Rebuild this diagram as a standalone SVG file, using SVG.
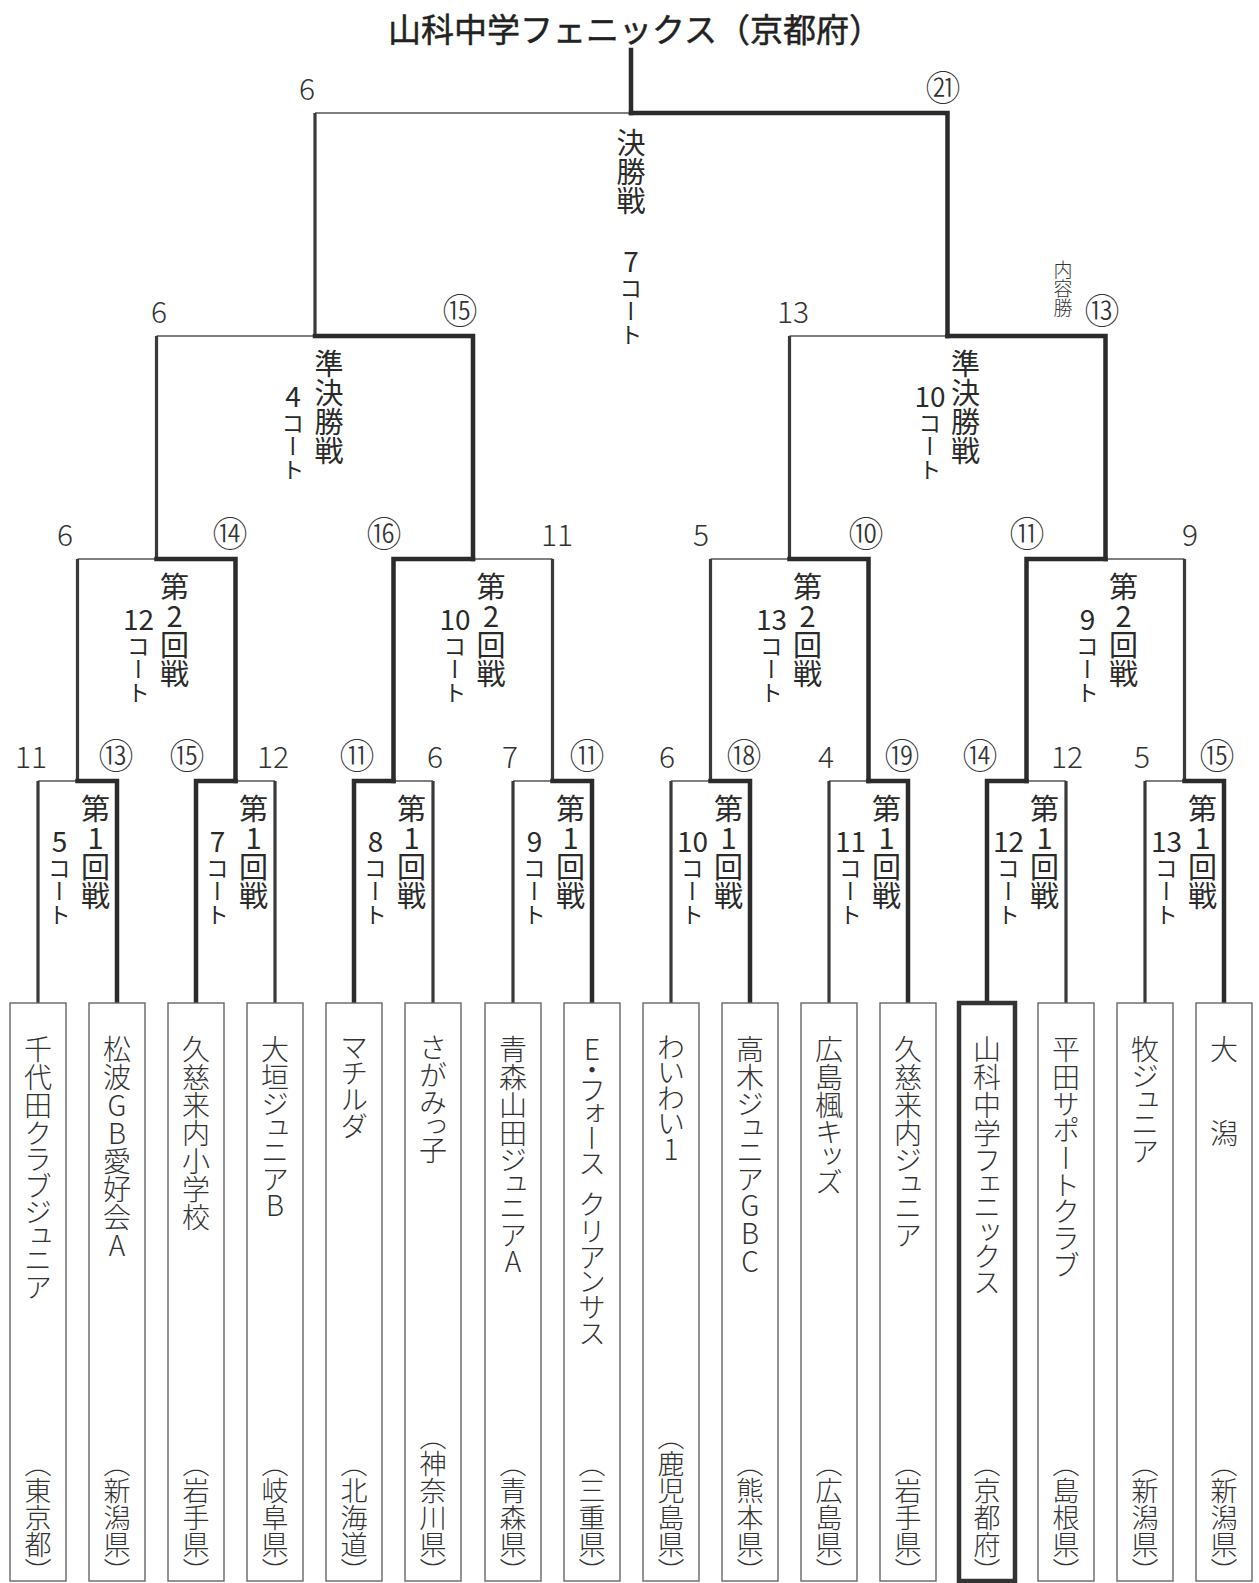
<svg xmlns="http://www.w3.org/2000/svg" width="1259" height="1583" viewBox="0 0 1259 1583">
<style>
.t{font-family:"Noto Sans CJK JP","Noto Sans CJK SC",sans-serif;fill:#333;font-weight:300}
.v{writing-mode:vertical-rl;text-orientation:upright}
.rn{font-size:29px;font-weight:400;fill:#2a2a2a}
.ct{font-size:23px;font-weight:400;fill:#2a2a2a}
.cn{font-size:28px;text-anchor:middle;font-weight:400;fill:#2a2a2a}
.sc{font-family:"Noto Sans CJK JP",sans-serif;font-weight:300;font-size:30px;text-anchor:middle;fill:#333}
.ci{font-size:35px;text-anchor:middle}
.tm{font-size:28px;font-feature-settings:"vpal" 1}
.pf{font-size:27px;text-anchor:end}
.sm{font-size:19px}
.ttl{font-size:33px;font-weight:400;fill:#222;stroke:#222;stroke-width:0.5}
.box{fill:#fff;stroke:#666;stroke-width:1.4}
.boxw{fill:#fff;stroke:#333;stroke-width:4.5}
.win{fill:none;stroke:#2b2b2b;stroke-width:4.5;stroke-linecap:square}
.lv{fill:none;stroke:#3a3a3a;stroke-width:3.2}
.lh{fill:none;stroke:#555;stroke-width:1.5}
</style>
<rect width="1259" height="1583" fill="#fff"/>

<g id="title"><text class="t ttl" x="388" y="42">山科中学フェニックス（京都府）</text></g>

<g id="connectors">
<path class="win" d="M631 50V113"/>
<path class="lh" d="M315 113H631"/><path class="lv" d="M315 113V336"/><path class="win" d="M631 113H947.5V336"/>
<path class="lh" d="M156.5 336H315"/><path class="lv" d="M156.5 336V559"/><path class="win" d="M315 336H473V559"/>
<path class="lh" d="M789.5 336H947.5"/><path class="lv" d="M789.5 336V559"/><path class="win" d="M947.5 336H1105.5V559"/>
<path class="lh" d="M77.5 559H156.5"/><path class="lv" d="M77.5 559V781"/><path class="win" d="M156.5 559H235.5V781"/>
<path class="lh" d="M473 559H552.5"/><path class="lv" d="M552.5 559V781"/><path class="win" d="M473 559H393.5V781"/>
<path class="lh" d="M710.5 559H789.5"/><path class="lv" d="M710.5 559V781"/><path class="win" d="M789.5 559H868.5V781"/>
<path class="lh" d="M1105.5 559H1184.5"/><path class="lv" d="M1184.5 559V781"/><path class="win" d="M1105.5 559H1026.5V781"/>
<path class="lh" d="M38 781H77.5"/><path class="lv" d="M38 781V1003"/><path class="win" d="M77.5 781H117V1003"/>
<path class="lh" d="M235.5 781H275"/><path class="lv" d="M275 781V1003"/><path class="win" d="M235.5 781H196V1003"/>
<path class="lh" d="M393.5 781H433"/><path class="lv" d="M433 781V1003"/><path class="win" d="M393.5 781H354V1003"/>
<path class="lh" d="M513 781H552.5"/><path class="lv" d="M513 781V1003"/><path class="win" d="M552.5 781H592V1003"/>
<path class="lh" d="M671 781H710.5"/><path class="lv" d="M671 781V1003"/><path class="win" d="M710.5 781H750V1003"/>
<path class="lh" d="M829 781H868.5"/><path class="lv" d="M829 781V1003"/><path class="win" d="M868.5 781H908V1003"/>
<path class="lh" d="M1026.5 781H1066"/><path class="lv" d="M1066 781V1003"/><path class="win" d="M1026.5 781H987V1003"/>
<path class="lh" d="M1145 781H1184.5"/><path class="lv" d="M1145 781V1003"/><path class="win" d="M1184.5 781H1224V1003"/>
</g>

<g id="final">
<text class="sc" x="307" y="100">6</text><text class="t ci" x="943" y="101">㉑</text>
<text class="t v rn" x="631" y="128">決勝戦</text>
<text class="t cn" x="631" y="272">7</text><text class="t v ct" x="631" y="277">コート</text>
</g>
<g id="semi1">
<text class="sc" x="159" y="323">6</text><text class="t ci" x="460" y="324">⑮</text>
<text class="t v rn" x="329" y="349">準決勝戦</text>
<text class="t cn" x="293" y="407">4</text><text class="t v ct" x="293" y="412">コート</text>
</g>
<g id="semi2">
<text class="sc" x="793" y="323">13</text><text class="t ci" x="1102" y="324">⑬</text>
<text class="t v sm" x="1063" y="260">内容勝</text>
<text class="t v rn" x="965.5" y="349">準決勝戦</text>
<text class="t cn" x="930" y="407">10</text><text class="t v ct" x="930" y="412">コート</text>
</g>

<g id="r2m1">
<text class="sc" x="65" y="546">6</text><text class="t ci" x="230" y="547">⑭</text>
<text class="t v rn" x="174.5" y="572">第2回戦</text>
<text class="t cn" x="138.5" y="630">12</text><text class="t v ct" x="138.5" y="635">コート</text>
</g>
<g id="r2m2">
<text class="t ci" x="384" y="547">⑯</text><text class="sc" x="557" y="546">11</text>
<text class="t v rn" x="491" y="572">第2回戦</text>
<text class="t cn" x="455" y="630">10</text><text class="t v ct" x="455" y="635">コート</text>
</g>
<g id="r2m3">
<text class="sc" x="701" y="546">5</text><text class="t ci" x="866" y="547">⑩</text>
<text class="t v rn" x="807.5" y="572">第2回戦</text>
<text class="t cn" x="771.5" y="630">13</text><text class="t v ct" x="771.5" y="635">コート</text>
</g>
<g id="r2m4">
<text class="t ci" x="1027" y="547">⑪</text><text class="sc" x="1190" y="546">9</text>
<text class="t v rn" x="1123.5" y="572">第2回戦</text>
<text class="t cn" x="1087.5" y="630">9</text><text class="t v ct" x="1087.5" y="635">コート</text>
</g>

<g id="r1m1">
<text class="sc" x="31" y="768">11</text><text class="t ci" x="116" y="769">⑬</text>
<text class="t v rn" x="95.5" y="794">第1回戦</text>
<text class="t cn" x="59.5" y="852">5</text><text class="t v ct" x="59.5" y="857">コート</text>
</g>
<g id="r1m2">
<text class="t ci" x="187" y="769">⑮</text><text class="sc" x="273" y="768">12</text>
<text class="t v rn" x="253.5" y="794">第1回戦</text>
<text class="t cn" x="217.5" y="852">7</text><text class="t v ct" x="217.5" y="857">コート</text>
</g>
<g id="r1m3">
<text class="t ci" x="357" y="769">⑪</text><text class="sc" x="435" y="768">6</text>
<text class="t v rn" x="411.5" y="794">第1回戦</text>
<text class="t cn" x="375.5" y="852">8</text><text class="t v ct" x="375.5" y="857">コート</text>
</g>
<g id="r1m4">
<text class="sc" x="510" y="768">7</text><text class="t ci" x="587" y="769">⑪</text>
<text class="t v rn" x="570.5" y="794">第1回戦</text>
<text class="t cn" x="534.5" y="852">9</text><text class="t v ct" x="534.5" y="857">コート</text>
</g>
<g id="r1m5">
<text class="sc" x="667" y="768">6</text><text class="t ci" x="744" y="769">⑱</text>
<text class="t v rn" x="728.5" y="794">第1回戦</text>
<text class="t cn" x="692.5" y="852">10</text><text class="t v ct" x="692.5" y="857">コート</text>
</g>
<g id="r1m6">
<text class="sc" x="826" y="768">4</text><text class="t ci" x="902" y="769">⑲</text>
<text class="t v rn" x="886.5" y="794">第1回戦</text>
<text class="t cn" x="850.5" y="852">11</text><text class="t v ct" x="850.5" y="857">コート</text>
</g>
<g id="r1m7">
<text class="t ci" x="980" y="769">⑭</text><text class="sc" x="1067" y="768">12</text>
<text class="t v rn" x="1044.5" y="794">第1回戦</text>
<text class="t cn" x="1008.5" y="852">12</text><text class="t v ct" x="1008.5" y="857">コート</text>
</g>
<g id="r1m8">
<text class="sc" x="1142" y="768">5</text><text class="t ci" x="1217" y="769">⑮</text>
<text class="t v rn" x="1202.5" y="794">第1回戦</text>
<text class="t cn" x="1166.5" y="852">13</text><text class="t v ct" x="1166.5" y="857">コート</text>
</g>

<g id="team1"><rect class="box" x="10" y="1003" width="56" height="578"/><text class="t v tm" x="38" y="1035">千代田クラブジュニア</text><text class="t v pf" x="38" y="1585">（東京都）</text></g>
<g id="team2"><rect class="box" x="89" y="1003" width="56" height="578"/><text class="t v tm" x="117" y="1035">松波GB愛好会A</text><text class="t v pf" x="117" y="1585">（新潟県）</text></g>
<g id="team3"><rect class="box" x="168" y="1003" width="56" height="578"/><text class="t v tm" x="196" y="1035">久慈来内小学校</text><text class="t v pf" x="196" y="1585">（岩手県）</text></g>
<g id="team4"><rect class="box" x="247" y="1003" width="56" height="578"/><text class="t v tm" x="275" y="1035">大垣ジュニアB</text><text class="t v pf" x="275" y="1585">（岐阜県）</text></g>
<g id="team5"><rect class="box" x="326" y="1003" width="56" height="578"/><text class="t v tm" x="354" y="1035">マチルダ</text><text class="t v pf" x="354" y="1585">（北海道）</text></g>
<g id="team6"><rect class="box" x="405" y="1003" width="56" height="578"/><text class="t v tm" x="433" y="1035">さがみっ子</text><text class="t v pf" x="433" y="1585">（神奈川県）</text></g>
<g id="team7"><rect class="box" x="485" y="1003" width="56" height="578"/><text class="t v tm" x="513" y="1035">青森山田ジュニアA</text><text class="t v pf" x="513" y="1585">（青森県）</text></g>
<g id="team8"><rect class="box" x="564" y="1003" width="56" height="578"/><text class="t v tm" x="592" y="1035">E・フォース<tspan style="letter-spacing:-14px"> </tspan>クリアンサス</text><text class="t v pf" x="592" y="1585">（三重県）</text></g>
<g id="team9"><rect class="box" x="643" y="1003" width="56" height="578"/><text class="t v tm" x="671" y="1035">わいわい1</text><text class="t v pf" x="671" y="1585">（鹿児島県）</text></g>
<g id="team10"><rect class="box" x="722" y="1003" width="56" height="578"/><text class="t v tm" x="750" y="1035">高木ジュニアGBC</text><text class="t v pf" x="750" y="1585">（熊本県）</text></g>
<g id="team11"><rect class="box" x="801" y="1003" width="56" height="578"/><text class="t v tm" x="829" y="1035">広島楓キッズ</text><text class="t v pf" x="829" y="1585">（広島県）</text></g>
<g id="team12"><rect class="box" x="880" y="1003" width="56" height="578"/><text class="t v tm" x="908" y="1035">久慈来内ジュニア</text><text class="t v pf" x="908" y="1585">（岩手県）</text></g>
<g id="team13"><rect class="boxw" x="959" y="1003" width="56" height="578"/><text class="t v tm" x="987" y="1035">山科中学フェニックス</text><text class="t v pf" x="987" y="1585">（京都府）</text></g>
<g id="team14"><rect class="box" x="1038" y="1003" width="56" height="578"/><text class="t v tm" x="1066" y="1035">平田サポートクラブ</text><text class="t v pf" x="1066" y="1585">（島根県）</text></g>
<g id="team15"><rect class="box" x="1117" y="1003" width="56" height="578"/><text class="t v tm" x="1145" y="1035">牧ジュニア</text><text class="t v pf" x="1145" y="1585">（新潟県）</text></g>
<g id="team16"><rect class="box" x="1196" y="1003" width="56" height="578"/><text class="t v tm" x="1224" y="1035">大　　潟</text><text class="t v pf" x="1224" y="1585">（新潟県）</text></g>
</svg>
